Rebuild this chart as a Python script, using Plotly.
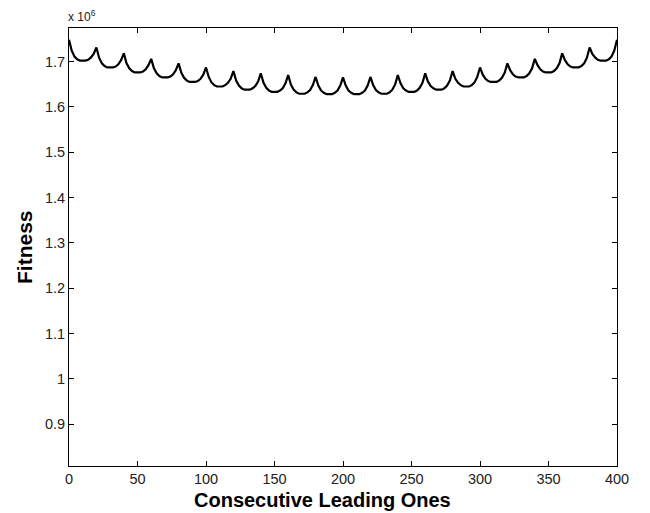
import plotly.graph_objects as go

# Consecutive leading ones (x) and fitness in units of 1e6 (y)
leading_ones = list(range(0, 401, 2))
fitness_millions = [
    1.748, 1.724, 1.711, 1.705, 1.702, 1.702, 1.702, 1.704, 1.709, 1.717,
    1.731, 1.708, 1.696, 1.690, 1.687, 1.687, 1.687, 1.689, 1.694, 1.703,
    1.718, 1.696, 1.685, 1.679, 1.676, 1.676, 1.676, 1.678, 1.683, 1.692,
    1.706, 1.685, 1.674, 1.668, 1.665, 1.665, 1.665, 1.667, 1.672, 1.681,
    1.696, 1.675, 1.664, 1.658, 1.655, 1.655, 1.655, 1.657, 1.662, 1.671,
    1.687, 1.666, 1.654, 1.648, 1.645, 1.645, 1.645, 1.648, 1.653, 1.662,
    1.679, 1.658, 1.647, 1.641, 1.638, 1.638, 1.638, 1.641, 1.646, 1.656,
    1.674, 1.653, 1.642, 1.636, 1.633, 1.633, 1.633, 1.636, 1.641, 1.652,
    1.670, 1.649, 1.638, 1.632, 1.629, 1.629, 1.629, 1.632, 1.637, 1.648,
    1.666, 1.647, 1.636, 1.631, 1.628, 1.628, 1.628, 1.631, 1.636, 1.647,
    1.665,
    1.647, 1.636, 1.631, 1.628, 1.628, 1.628, 1.631, 1.636, 1.647, 1.666,
    1.648, 1.637, 1.632, 1.629, 1.629, 1.629, 1.632, 1.638, 1.649, 1.670,
    1.652, 1.641, 1.636, 1.633, 1.633, 1.633, 1.636, 1.642, 1.653, 1.674,
    1.656, 1.646, 1.641, 1.638, 1.638, 1.638, 1.641, 1.647, 1.658, 1.679,
    1.662, 1.653, 1.648, 1.645, 1.645, 1.645, 1.648, 1.654, 1.666, 1.687,
    1.671, 1.662, 1.657, 1.655, 1.655, 1.655, 1.658, 1.664, 1.675, 1.696,
    1.681, 1.672, 1.667, 1.665, 1.665, 1.665, 1.668, 1.674, 1.685, 1.706,
    1.692, 1.683, 1.678, 1.676, 1.676, 1.676, 1.679, 1.685, 1.696, 1.718,
    1.703, 1.694, 1.689, 1.687, 1.687, 1.687, 1.690, 1.696, 1.708, 1.731,
    1.717, 1.709, 1.704, 1.702, 1.702, 1.702, 1.705, 1.711, 1.724, 1.748,
]

x_tick_vals = [0, 50, 100, 150, 200, 250, 300, 350, 400]
y_tick_vals = [0.9, 1.0, 1.1, 1.2, 1.3, 1.4, 1.5, 1.6, 1.7]
y_tick_text = ["0.9", "1", "1.1", "1.2", "1.3", "1.4", "1.5", "1.6", "1.7"]

fig = go.Figure()
fig.add_trace(go.Scatter(
    x=leading_ones, y=fitness_millions, mode="lines",
    line=dict(color="black", width=2.2), showlegend=False,
))

font_family = "Liberation Sans, Arial, sans-serif"
axis_common = dict(
    showline=True, linecolor="black", linewidth=1, mirror="ticks",
    ticks="inside", ticklen=5, tickcolor="black", showgrid=False,
    zeroline=False, automargin=False,
    tickfont=dict(family=font_family, size=14.5, color="#222"),
)

fig.update_layout(
    width=650, height=513,
    margin=dict(l=61, r=41, t=20, b=55),
    paper_bgcolor="white", plot_bgcolor="white",
    xaxis=dict(range=[0, 400], tickvals=x_tick_vals, **axis_common),
    yaxis=dict(range=[0.808, 1.774], tickvals=y_tick_vals, ticktext=y_tick_text,
               **axis_common),
    annotations=[
        dict(text="x 10<sup>6</sup>", xref="paper", yref="paper", x=0, y=1,
             xanchor="left", yanchor="bottom", xshift=-3, yshift=2,
             showarrow=False,
             font=dict(family=font_family, size=12, color="#222")),
        dict(text="<b>Consecutive Leading Ones</b>", xref="paper", yref="paper",
             x=0.5, y=0, xanchor="center", yanchor="middle", yshift=-34,
             xshift=-21, showarrow=False,
             font=dict(family=font_family, size=20, color="black")),
        dict(text="<b>Fitness</b>", xref="paper", yref="paper",
             x=0, y=0.5, xanchor="center", yanchor="middle", xshift=-45,
             textangle=-90, showarrow=False,
             font=dict(family=font_family, size=21, color="black")),
    ],
)

fig.write_html("out.html")
